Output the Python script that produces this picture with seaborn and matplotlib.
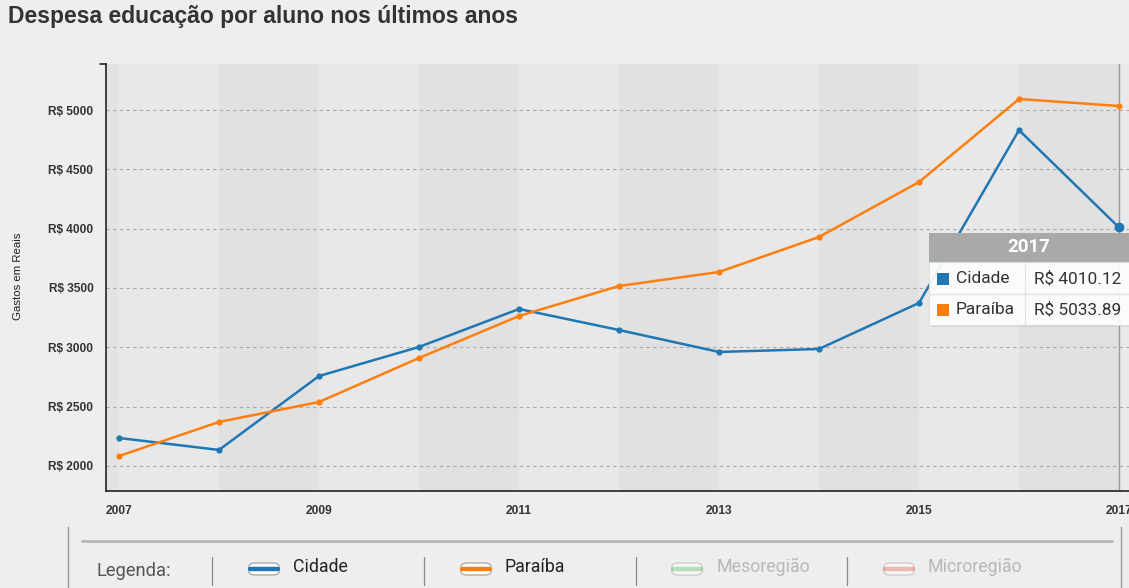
import matplotlib
matplotlib.use("Agg")
import matplotlib.pyplot as plt
import matplotlib.patches as mpatches
from matplotlib.lines import Line2D
import seaborn as sns
import pandas as pd

# ---------------- data ----------------
years = [2007, 2008, 2009, 2010, 2011, 2012, 2013, 2014, 2015, 2016, 2017]
cidade = [2236, 2135, 2758, 3003, 3323, 3146, 2961, 2986, 3374, 4831, 4010.12]
paraiba = [2084, 2371, 2539, 2910, 3264, 3517, 3635, 3930, 4393, 5093, 5033.89]
series_names = ["Cidade", "Paraíba"]
legend_names = ["Cidade", "Paraíba", "Mesoregião", "Microregião"]
y_ticks = [2000, 2500, 3000, 3500, 4000, 4500, 5000]
x_label_years = [2007, 2009, 2011, 2013, 2015, 2017]
title = "Despesa educação por aluno nos últimos anos"
ylabel = "Gastos em Reais"

BLUE = "#1f77b4"
ORANGE = "#ff7f0e"
GREEN = "#2ca02c"
RED = "#d62728"

df = pd.DataFrame({
    "ano": years * 2,
    "valor": cidade + paraiba,
    "serie": [series_names[0]] * len(years) + [series_names[1]] * len(years),
})

sns.set_style("white")
plt.rcParams["font.family"] = ["Liberation Sans", "DejaVu Sans"]

W, H = 1129, 588
fig = plt.figure(figsize=(W / 100, H / 100), dpi=100, facecolor="#eeeeee")

def fx(px):
    return px / W

def fy(py):
    return 1 - py / H

ax = fig.add_axes([fx(106), fy(491), fx(1129) - fx(106), fy(64) - fy(491)])
ax.set_facecolor("#e9e9e9")

# alternating year bands
for i in range(len(years) - 1):
    col = "#e1e1e1" if i % 2 == 1 else "#e8e8e8"
    ax.axvspan(years[i], years[i + 1], color=col, lw=0, zorder=0)
ax.axvspan(2006.87, years[0], color="#e3e3e3", lw=0, zorder=0)

# grid
for t in y_ticks:
    ax.axhline(t, color="#a8a8a8", lw=0.8, ls=(0, (3, 3)), zorder=1)

# crosshair at hovered year
ax.axvline(years[-1], color="#9a9a9a", lw=1.0, zorder=2)

sns.lineplot(data=df, x="ano", y="valor", hue="serie", palette=[BLUE, ORANGE],
             marker="o", markersize=4.5, markeredgewidth=0, linewidth=1.8,
             ax=ax, legend=False, zorder=3)
# hovered marker
ax.scatter([years[-1]], [cidade[-1]], s=50, color=BLUE, zorder=4, lw=0)

ax.set_xlim(2006.87, 2017.1)
ax.set_ylim(1789, 5388)
ax.set_xticks(years)
ax.set_xticklabels([str(y) if y in x_label_years else "" for y in years])
ax.set_yticks(y_ticks)
ax.set_yticklabels([f"R$ {t}" for t in y_ticks])
ax.tick_params(axis="both", direction="out", length=6, width=1, color="#222222",
               labelsize=8.6, labelcolor="#222222", pad=3)
ax.tick_params(axis="x", pad=4)
ax.set_xlabel("")
ax.set_ylabel("")
for s in ["top", "right"]:
    ax.spines[s].set_visible(False)
for s in ["left", "bottom"]:
    ax.spines[s].set_color("#222222")
    ax.spines[s].set_linewidth(1.2)
for lab in ax.get_xticklabels() + ax.get_yticklabels():
    lab.set_fontweight("bold")
    lab.set_color("#333333")
# outer tick at top of y axis
ax.plot([2006.87 - 0.06, 2006.87], [5388, 5388], color="#222222", lw=1.2,
        clip_on=False, zorder=5)

fig.text(fx(18), fy(276), ylabel, rotation=90, ha="center", va="center",
         fontsize=8.2, color="#222222")
fig.text(fx(8), fy(17), title, ha="left", va="center", fontsize=16.5,
         fontweight="bold", color="#333333")

# ---------------- tooltip ----------------
tfont = ["Roboto", "DejaVu Sans"]
tx0, tx1 = 929, 1135
ty0, ty_h, ty1 = 233, 262, 325
fig.patches.append(mpatches.Rectangle((fx(tx0 + 2), fy(ty1 + 2)), fx(tx1 - tx0), fy(ty0) - fy(ty1),
                                      transform=fig.transFigure, color="#000000", alpha=0.08, lw=0, zorder=9))
fig.patches.append(mpatches.Rectangle((fx(tx0), fy(ty1)), fx(tx1 - tx0), fy(ty_h) - fy(ty1),
                                      transform=fig.transFigure, facecolor="white", alpha=0.92,
                                      edgecolor="#dddddd", lw=0.8, zorder=10))
fig.patches.append(mpatches.Rectangle((fx(tx0), fy(ty_h)), fx(tx1 - tx0), fy(ty0) - fy(ty_h),
                                      transform=fig.transFigure, facecolor="#a9a9a9", lw=0, zorder=11))
fig.text(fx(1029), fy(247.5), str(years[-1]), ha="center", va="center", fontsize=13.5,
         fontweight="bold", color="white", family=tfont, zorder=12)
fig.lines.append(Line2D([fx(tx0), fx(tx1)], [fy(294), fy(294)], transform=fig.transFigure,
                        color="#e2e2e2", lw=1, zorder=12))
fig.lines.append(Line2D([fx(1025), fx(1025)], [fy(263), fy(325)], transform=fig.transFigure,
                        color="#cccccc", lw=0.8, ls=(0, (1, 1)), zorder=12))
rows = [(series_names[0], BLUE, cidade[-1], 278.5), (series_names[1], ORANGE, paraiba[-1], 310)]
for name, col, val, yc in rows:
    fig.patches.append(mpatches.Rectangle((fx(937), fy(yc + 6)), fx(12), fy(yc - 6) - fy(yc + 6),
                                          transform=fig.transFigure, color=col, lw=0, zorder=12))
    fig.text(fx(956), fy(yc), name, ha="left", va="center", fontsize=12.5, color="#333333",
             family=tfont, zorder=12)
    fig.text(fx(1034), fy(yc), f"R$ {val:.2f}", ha="left", va="center", fontsize=12.4,
             color="#333333", family=tfont, zorder=12)

# ---------------- legend panel ----------------
fig.lines.append(Line2D([fx(68), fx(68)], [fy(527), fy(588)], transform=fig.transFigure,
                        color="#999999", lw=1))
fig.lines.append(Line2D([fx(1121), fx(1121)], [fy(527), fy(588)], transform=fig.transFigure,
                        color="#999999", lw=1))
fig.lines.append(Line2D([fx(82), fx(1112)], [fy(541), fy(541)], transform=fig.transFigure,
                        color="#b5b5b5", lw=2))
fig.text(fx(96), fy(571), "Legenda:", ha="left", va="center", fontsize=13.2, color="#555555",
         family=tfont)
for sx in [212, 424, 636, 847]:
    fig.lines.append(Line2D([fx(sx), fx(sx)], [fy(557), fy(585)], transform=fig.transFigure,
                            color="#888888", lw=0.9))
leg_cols = [BLUE, ORANGE, GREEN, RED]
leg_alpha = [1, 1, 0.3, 0.3]
leg_x = [249, 461, 672, 884]
for name, col, a, lx in zip(legend_names, leg_cols, leg_alpha, leg_x):
    fig.patches.append(mpatches.FancyBboxPatch((fx(lx), fy(575)), fx(30), fy(563) - fy(575),
                                               boxstyle="round,pad=0,rounding_size=0.006",
                                               transform=fig.transFigure, facecolor="white",
                                               edgecolor="#aaaaaa", lw=1, alpha=max(a, 0.5)))
    fig.lines.append(Line2D([fx(lx + 1), fx(lx + 29)], [fy(568.5), fy(568.5)],
                            transform=fig.transFigure, color=col, lw=3.2, alpha=a))
    fig.text(fx(lx + 44), fy(567), name, ha="left", va="center", fontsize=12.8,
             color="#222222" if a == 1 else "#b8b8b8", family=tfont)

fig.savefig("out.png", dpi=100, facecolor=fig.get_facecolor())
